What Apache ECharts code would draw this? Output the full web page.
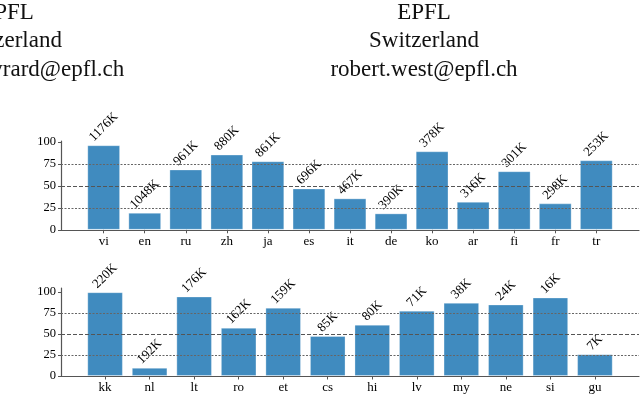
<!DOCTYPE html>
<html>
<head>
<meta charset="utf-8">
<script src="https://cdn.jsdelivr.net/npm/echarts@6/dist/echarts.min.js"></script>
<style>
  html, body { margin: 0; padding: 0; background: #fff; }
  #chart { width: 640px; height: 394px; }
</style>
</head>
<body>
<div id="chart"></div>
<script>
// upper panel
const langsTop = ['vi', 'en', 'ru', 'zh', 'ja', 'es', 'it', 'de', 'ko', 'ar', 'fi', 'fr', 'tr']
const scoresTop = [96.3, 19.4, 68.7, 85.7, 78.1, 47.1, 35.8, 18.7, 89.4, 31.9, 66.7, 30.1, 79.2]
const sizesTop = ['1176K', '1048K', '961K', '880K', '861K', '696K', '467K', '390K', '378K', '316K', '301K', '298K', '253K']

// lower panel
const langsBottom = ['kk', 'nl', 'lt', 'ro', 'et', 'cs', 'hi', 'lv', 'my', 'ne', 'si', 'gu']
const scoresBottom = [100, 9.8, 94.9, 57.6, 81.5, 47.8, 61.2, 78.0, 87.4, 85.4, 93.7, 25.9]
const sizesBottom = ['220K', '192K', '176K', '162K', '159K', '85K', '80K', '71K', '38K', '24K', '16K', '7K']

const yTicks = [0, 25, 50, 75, 100]
const dottedLevels = [25, 75]
const dashedLevels = [50]

const headerRight = ['EPFL', 'Switzerland', 'robert.west@epfl.ch']
const headerLeft = ['EPFL', 'Switzerland', 'maxime.peyrard@epfl.ch']

const FONT = '"Liberation Serif", "DejaVu Serif", serif'
const LABEL_SIZE = 13

// measure label width so the rotated box sits just above the bar
const ctx = document.createElement('canvas').getContext('2d')
ctx.font = LABEL_SIZE + 'px ' + FONT
const labelDistance = text => {
  const w = ctx.measureText(text).width
  return 2.5 + (w + 9.5) / Math.SQRT2 / 2
}

const makeAxes = (idx, names, yMax) => {
  const pos = names.map((_, i) => i)
  const pad = 0.05 * (names.length - 0.2)
  return {
    x: {
      type: 'value', gridIndex: idx,
      min: -0.4 - pad, max: names.length - 0.6 + pad,
      axisLine: { show: true, onZero: false, lineStyle: { color: '#555', width: 1.2 } },
      axisTick: { show: true, length: 3.5, customValues: pos, lineStyle: { color: '#555' } },
      axisLabel: {
        customValues: pos, margin: 5, color: '#000', fontSize: 13, fontFamily: FONT,
        formatter: v => names[Math.round(v)]
      },
      splitLine: { show: false }
    },
    y: {
      type: 'value', gridIndex: idx, min: 0, max: yMax,
      axisLine: { show: true, onZero: false, lineStyle: { color: '#555', width: 1.2 } },
      axisTick: { show: true, length: 3, customValues: yTicks, lineStyle: { color: '#555' } },
      axisLabel: { customValues: yTicks, margin: 5, color: '#000', fontSize: 12.5, fontFamily: FONT },
      splitLine: { show: false }
    }
  }
}

const gridLines = idx => ({
  type: 'line', xAxisIndex: idx, yAxisIndex: idx, data: [], z: 1,
  markLine: {
    silent: true, symbol: 'none', label: { show: false },
    data: [
      ...dottedLevels.map(v => ({ yAxis: v, lineStyle: { color: '#666', width: 1, type: [2, 1.5] } })),
      ...dashedLevels.map(v => ({ yAxis: v, lineStyle: { color: '#555', width: 1.2, type: [4, 2] } }))
    ]
  }
})

const bars = (idx, scores, sizes, width) => ({
  type: 'bar', xAxisIndex: idx, yAxisIndex: idx, z: 2,
  barWidth: width,
  itemStyle: { color: '#1f77b4', opacity: 0.85, borderColor: 'rgba(255,255,255,0.35)', borderWidth: 1 },
  label: {
    show: true, position: 'top', rotate: 45, align: 'center', verticalAlign: 'middle',
    fontSize: LABEL_SIZE, fontFamily: FONT, color: '#000', opacity: 1,
    formatter: p => sizes[p.dataIndex]
  },
  data: scores.map((v, i) => ({ value: [i, v], label: { distance: labelDistance(sizes[i]) } }))
})

const headerText = (lines, x) => lines.map((t, i) => ({
  type: 'text', x: x, y: 12.5 + i * 28.7,
  style: { text: t, fill: '#111', font: '23px ' + FONT, textAlign: 'center', textVerticalAlign: 'middle' }
}))

const axesTop = makeAxes(0, langsTop, 101.1)
const axesBottom = makeAxes(1, langsBottom, 105)

const myChart = echarts.init(document.getElementById('chart'), null, { renderer: 'canvas' })
myChart.setOption({
  animation: false,
  textStyle: { fontFamily: FONT },
  grid: [
    { left: 61, right: 1, top: 141, height: 88.8 },
    { left: 61, right: 1, top: 288, height: 89.3 }
  ],
  xAxis: [axesTop.x, axesBottom.x],
  yAxis: [axesTop.y, axesBottom.y],
  graphic: [...headerText(headerRight, 424), ...headerText(headerLeft, 7)],
  series: [
    gridLines(0),
    gridLines(1),
    bars(0, scoresTop, sizesTop, 32.8),
    bars(1, scoresBottom, sizesBottom, 35.6)
  ]
})
</script>
</body>
</html>
